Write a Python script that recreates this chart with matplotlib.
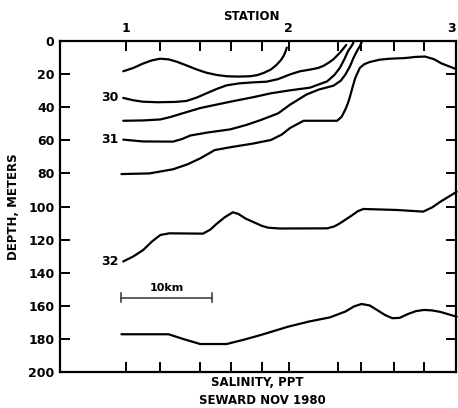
import matplotlib
matplotlib.use("Agg")
import matplotlib.pyplot as plt

# distance along section (km from station 1) and depth (m) for each isohaline
line_a_km = [-0.3, 0.8, 1.9, 2.8, 3.75, 4.7, 5.6, 6.7, 7.8, 8.9, 10.0, 11.1, 12.4, 13.7,
             14.5, 15.2, 16.0, 16.6, 17.1, 17.4, 17.6, 17.75]
line_a_depth = [18.3, 16.3, 13.6, 11.8, 10.7, 11.1, 12.5, 14.8, 17.2, 19.2, 20.5, 21.3,
                21.5, 21.3, 20.6, 19.3, 17.2, 14.5, 11.5, 9.0, 6.5, 4.0]

line_b_km = [-0.3, 0.8, 1.9, 3.5, 5.5, 6.7, 7.8, 8.9, 10.0, 11.1, 12.5, 14.0, 15.5, 16.8,
             18.1, 19.2, 20.3, 21.2, 21.8, 22.4, 22.9, 23.3, 23.7, 24.0, 24.3]
line_b_depth = [34.4, 35.8, 36.7, 37.0, 36.8, 36.2, 34.2, 31.6, 29.0, 26.8, 25.6, 25.0,
                24.6, 23.0, 20.2, 18.3, 17.3, 16.3, 15.0, 13.0, 11.0, 8.8, 6.5, 4.5, 2.4]

line_c_km = [-0.3, 1.9, 3.8, 5.0, 6.0, 8.2, 11.5, 14.0, 16.0, 18.1, 20.3, 22.2, 23.0,
             23.6, 24.1, 24.5, 24.9, 25.1]
line_c_depth = [48.2, 48.0, 47.4, 45.8, 44.1, 40.5, 36.7, 34.0, 31.6, 29.8, 28.2, 24.4,
                20.5, 16.3, 11.0, 6.2, 3.0, 1.0]

line_d_km = [-0.3, 1.9, 5.2, 6.2, 7.1, 9.0, 11.5, 13.3, 14.9, 16.8, 18.1, 19.9, 21.3,
             22.9, 23.7, 24.2, 24.7, 25.1, 25.5, 25.8, 26.0]
line_d_depth = [59.6, 60.7, 60.8, 59.2, 57.1, 55.3, 53.4, 50.7, 47.7, 43.7, 38.5, 32.4,
                29.3, 27.0, 24.0, 20.4, 15.5, 10.3, 6.0, 3.2, 1.0]

line_e_km = [-0.5, 2.6, 5.2, 6.8, 8.2, 9.8, 11.5, 14.0, 16.0, 17.2, 18.1, 19.6, 23.3,
             23.8, 24.2, 24.5, 24.7, 25.0, 25.3, 25.8, 26.3, 26.9, 28.0, 29.1, 30.8,
             32.0, 33.0, 34.0, 34.8, 35.6, 36.4]
line_e_depth = [80.4, 80.0, 77.5, 74.5, 70.9, 65.9, 64.2, 62.0, 59.8, 56.5, 52.6, 48.2,
                48.2, 45.8, 41.5, 37.5, 34.0, 28.0, 22.4, 16.3, 14.0, 12.7, 11.3, 10.7,
                10.3, 9.6, 9.4, 11.0, 13.5, 15.2, 16.9]

line_f_km = [-0.3, 0.8, 1.9, 2.9, 3.8, 4.8, 8.5, 9.3, 10.0, 10.9, 11.8, 12.4, 13.2, 14.1,
             15.0, 15.7, 17.0, 22.2, 23.0, 23.6, 24.9, 25.6, 26.2, 29.9, 32.8, 33.8,
             34.7, 36.5]
line_f_depth = [133.2, 130.2, 126.3, 121.0, 117.2, 116.2, 116.4, 114.0, 110.5, 106.5,
                103.5, 104.5, 107.3, 109.5, 111.7, 112.8, 113.3, 113.2, 112.0, 110.2,
                105.5, 102.8, 101.5, 102.1, 103.1, 100.5, 97.1, 91.1]

line_g_km = [-0.5, 4.7, 6.4, 8.2, 11.1, 13.0, 14.9, 17.9, 20.2, 22.5, 24.2, 25.2, 26.0,
             26.9, 27.7, 28.6, 29.4, 30.2, 31.1, 32.0, 32.9, 33.8, 34.7, 36.5]
line_g_depth = [177.2, 177.2, 180.2, 183.1, 183.1, 180.5, 177.6, 172.6, 169.5, 167.0,
                163.5, 160.3, 158.9, 159.8, 162.5, 165.6, 167.5, 167.3, 165.0, 163.2,
                162.5, 162.8, 163.7, 166.6]

cast_km = [0, 3.75, 8.17, 11.56, 15.05, 17.96, 23.4, 25.97, 29.55, 32.89, 36.42]
station_km = [0, 17.96, 36.42]
station_labels = ["1", "2", "3"]
label_text = ["30", "31", "32"]
label_depth = [34.4, 59.8, 133.4]

plt.rcParams["font.family"] = "DejaVu Sans"
plt.rcParams["font.weight"] = "bold"

fig = plt.figure(figsize=(4.58, 4.08), dpi=100)
ax = fig.add_axes([60 / 458, 1 - 372 / 408, 396 / 458, 331 / 408])

lines = [(line_a_km, line_a_depth), (line_b_km, line_b_depth), (line_c_km, line_c_depth),
         (line_d_km, line_d_depth), (line_e_km, line_e_depth), (line_f_km, line_f_depth),
         (line_g_km, line_g_depth)]
for xs, ys in lines:
    ax.plot(xs, ys, color="black", lw=1.6, solid_capstyle="round",
            solid_joinstyle="round", clip_on=False)

for t, d in zip(label_text, label_depth):
    ax.text(-0.85, d, t, ha="right", va="center", fontsize=9, fontweight="bold")

# 10 km scale bar
ax.plot([-0.5, 9.5], [155, 155], color="#333333", lw=1.1)
ax.plot([-0.5, -0.5], [152.5, 157.5], color="#333333", lw=1.1)
ax.plot([9.5, 9.5], [152.5, 157.5], color="#333333", lw=1.1)
ax.text(4.5, 152, "10km", ha="center", va="bottom", fontsize=8, fontweight="bold")

ax.set_xlim(-7.28, 36.42)
ax.set_ylim(200, 0)

for s in ax.spines.values():
    s.set_linewidth(1.6)

ax.set_yticks(range(0, 201, 20))
ax.tick_params(axis="y", direction="in", length=7, width=1.4, labelsize=9, pad=4,
               left=True, right=True, labelright=False)
ax.set_xticks(cast_km)
ax.set_xticklabels([])
ax.tick_params(axis="x", direction="in", length=7, width=1.4, top=True, bottom=True,
               labelbottom=False)

sec = ax.secondary_xaxis("top")
sec.set_xticks(station_km)
labs = sec.set_xticklabels(station_labels)
labs[-1].set_ha("right")
sec.tick_params(length=0, labelsize=9, pad=4)
sec.spines["top"].set_visible(False)

ax.set_ylabel("DEPTH, METERS", fontsize=8.5, fontweight="bold")
ax.yaxis.set_label_coords(-0.102, 0.5)

fig.text(251 / 458, 1 - 16 / 408, "STATION", ha="center", va="center", fontsize=8.5,
         fontweight="bold")
fig.text(257 / 458, 1 - 383 / 408, "SALINITY, PPT", ha="center", va="center",
         fontsize=8.5, fontweight="bold")
fig.text(262 / 458, 1 - 400 / 408, "SEWARD NOV 1980", ha="center", va="center",
         fontsize=8.5, fontweight="bold")

fig.savefig("out.png", dpi=100)
